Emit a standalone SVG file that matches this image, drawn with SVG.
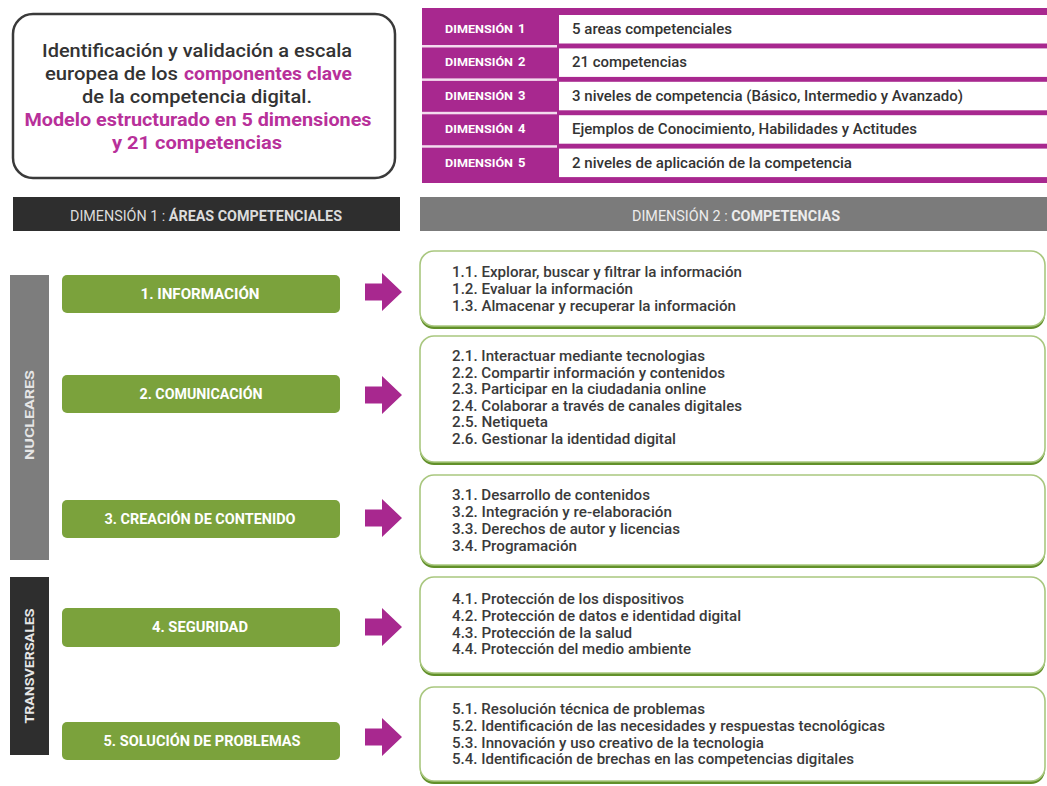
<svg xmlns="http://www.w3.org/2000/svg" width="1047" height="786" viewBox="0 0 1047 786">
<defs>
<style>
.t{font-family:Roboto,"Liberation Sans",sans-serif}
.title{font-size:19px;fill:#333;font-weight:500}
.pk{fill:#b8309a;font-weight:700}
.dl{font-size:10px;font-weight:700;fill:#fff}
.dn{font-size:13px;font-weight:700;fill:#fff}
.dt{font-size:14px;font-weight:500;fill:#333}
.bar{font-size:14px;fill:#dcdcdc}
.gb{fill:#7ba23c}
.gt{font-size:14px;font-weight:700;fill:#fff}
.vt{font-size:13px;font-weight:700;fill:#e6e6e6}
.lst{font-size:15px;font-weight:500;fill:#3a3a3a}
.cb{fill:#fff;stroke:#a9c77f;stroke-width:1.6}
.cs{fill:#62902a}
.arr{fill:#a8288f}
</style>
</defs>
<rect width="1047" height="786" fill="#fff"/>

<g id="title">
<rect x="13" y="14" width="382" height="164" rx="20" fill="#fff" stroke="#3a3a3a" stroke-width="2.5"/>
<text class="t title" x="197" y="57" text-anchor="middle" textLength="310" lengthAdjust="spacingAndGlyphs">Identificación y validación a escala</text>
<text class="t title" x="45" y="80" textLength="133" lengthAdjust="spacingAndGlyphs">europea de los</text>
<text class="t title pk" x="184" y="80" textLength="168" lengthAdjust="spacingAndGlyphs">componentes clave</text>
<text class="t title" x="197" y="103" text-anchor="middle" textLength="230" lengthAdjust="spacingAndGlyphs">de la competencia digital.</text>
<text class="t title pk" x="198" y="126" text-anchor="middle" textLength="347" lengthAdjust="spacingAndGlyphs">Modelo estructurado en 5 dimensiones</text>
<text class="t title pk" x="197" y="149" text-anchor="middle" textLength="170" lengthAdjust="spacingAndGlyphs">y 21 competencias</text>
</g>

<g id="dimensions">
<rect x="422" y="8" width="625" height="175" fill="#a8288f"/>
<rect x="559" y="15" width="488" height="28.5" fill="#fff"/>
<rect x="559" y="48.4" width="488" height="28.5" fill="#fff"/>
<rect x="559" y="81.8" width="488" height="28.5" fill="#fff"/>
<rect x="559" y="115.2" width="488" height="28.5" fill="#fff"/>
<rect x="559" y="148.6" width="488" height="28.5" fill="#fff"/>
<rect x="422" y="45" width="135" height="2.5" fill="#f3dcee"/>
<rect x="422" y="78.4" width="135" height="2.5" fill="#f3dcee"/>
<rect x="422" y="111.8" width="135" height="2.5" fill="#f3dcee"/>
<rect x="422" y="145.2" width="135" height="2.5" fill="#f3dcee"/>
<text class="t dl" x="445" y="33" textLength="68" lengthAdjust="spacingAndGlyphs">DIMENSIÓN</text><text class="t dn" x="518" y="33">1</text>
<text class="t dl" x="445" y="66.4" textLength="68" lengthAdjust="spacingAndGlyphs">DIMENSIÓN</text><text class="t dn" x="518" y="66.4">2</text>
<text class="t dl" x="445" y="99.8" textLength="68" lengthAdjust="spacingAndGlyphs">DIMENSIÓN</text><text class="t dn" x="518" y="99.8">3</text>
<text class="t dl" x="445" y="133.2" textLength="68" lengthAdjust="spacingAndGlyphs">DIMENSIÓN</text><text class="t dn" x="518" y="133.2">4</text>
<text class="t dl" x="445" y="166.6" textLength="68" lengthAdjust="spacingAndGlyphs">DIMENSIÓN</text><text class="t dn" x="518" y="166.6">5</text>
<text class="t dt" x="572" y="34" textLength="160" lengthAdjust="spacingAndGlyphs">5 areas competenciales</text>
<text class="t dt" x="572" y="67.4" textLength="115" lengthAdjust="spacingAndGlyphs">21 competencias</text>
<text class="t dt" x="572" y="100.8" textLength="391" lengthAdjust="spacingAndGlyphs">3 niveles de competencia (Básico, Intermedio y Avanzado)</text>
<text class="t dt" x="572" y="134.2" textLength="345" lengthAdjust="spacingAndGlyphs">Ejemplos de Conocimiento, Habilidades y Actitudes</text>
<text class="t dt" x="572" y="167.6" textLength="280" lengthAdjust="spacingAndGlyphs">2 niveles de aplicación de la competencia</text>
</g>

<g id="header1">
<rect x="13" y="197" width="387" height="34" fill="#2e2e2e"/>
<text class="t bar" x="70" y="221" textLength="272" lengthAdjust="spacingAndGlyphs">DIMENSIÓN 1 : <tspan font-weight="700">ÁREAS COMPETENCIALES</tspan></text>
</g>
<g id="header2">
<rect x="420" y="197" width="627" height="34" fill="#7b7b7b"/>
<text class="t bar" x="632" y="221" textLength="208" lengthAdjust="spacingAndGlyphs" style="fill:#ececec">DIMENSIÓN 2 : <tspan font-weight="700">COMPETENCIAS</tspan></text>
</g>

<g id="nucleares">
<rect x="10" y="275" width="39" height="285" fill="#7d7d7d"/>
<text class="t vt" transform="translate(34,415) rotate(-90)" text-anchor="middle" textLength="90" lengthAdjust="spacingAndGlyphs">NUCLEARES</text>
</g>
<g id="transversales">
<rect x="10" y="577" width="39" height="178" fill="#2e2e2e"/>
<text class="t vt" transform="translate(34,666) rotate(-90)" text-anchor="middle" textLength="115" lengthAdjust="spacingAndGlyphs">TRANSVERSALES</text>
</g>

<g id="area1"><rect class="gb" x="62" y="275" width="278" height="38" rx="5"/><text class="t gt" x="200" y="299" text-anchor="middle" textLength="119" lengthAdjust="spacingAndGlyphs">1. INFORMACIÓN</text></g>
<g id="area2"><rect class="gb" x="62" y="375" width="278" height="38" rx="5"/><text class="t gt" x="201" y="399" text-anchor="middle" textLength="123" lengthAdjust="spacingAndGlyphs">2. COMUNICACIÓN</text></g>
<g id="area3"><rect class="gb" x="62" y="500" width="278" height="38" rx="5"/><text class="t gt" x="200" y="524" text-anchor="middle" textLength="191" lengthAdjust="spacingAndGlyphs">3. CREACIÓN DE CONTENIDO</text></g>
<g id="area4"><rect class="gb" x="62" y="608" width="278" height="39" rx="5"/><text class="t gt" x="200" y="632" text-anchor="middle" textLength="96" lengthAdjust="spacingAndGlyphs">4. SEGURIDAD</text></g>
<g id="area5"><rect class="gb" x="62" y="722" width="278" height="38" rx="5"/><text class="t gt" x="202" y="746" text-anchor="middle" textLength="197" lengthAdjust="spacingAndGlyphs">5. SOLUCIÓN DE PROBLEMAS</text></g>

<g id="connectors">
<path class="arr" d="M365,283.5 H382 V273 L402,292 L382,311 V300.5 H365 Z"/>
<path class="arr" d="M365,386.5 H382 V376 L402,395 L382,414 V403.5 H365 Z"/>
<path class="arr" d="M365,509.5 H382 V499 L402,518 L382,537 V526.5 H365 Z"/>
<path class="arr" d="M365,618.5 H382 V608 L402,627 L382,646 V635.5 H365 Z"/>
<path class="arr" d="M365,728.5 H382 V718 L402,737 L382,756 V745.5 H365 Z"/>
</g>

<g id="comp1">
<rect class="cs" x="420" y="254" width="625" height="75" rx="14"/>
<rect class="cb" x="420" y="251" width="625" height="75" rx="14"/>
<text class="t lst" x="452" y="277" textLength="290" lengthAdjust="spacingAndGlyphs">1.1. Explorar, buscar y filtrar la información</text>
<text class="t lst" x="452" y="294" textLength="181" lengthAdjust="spacingAndGlyphs">1.2. Evaluar la información</text>
<text class="t lst" x="452" y="311" textLength="284" lengthAdjust="spacingAndGlyphs">1.3. Almacenar y recuperar la información</text>
</g>
<g id="comp2">
<rect class="cs" x="420" y="339" width="625" height="126" rx="14"/>
<rect class="cb" x="420" y="336" width="625" height="126" rx="14"/>
<text class="t lst" x="452" y="361" textLength="253" lengthAdjust="spacingAndGlyphs">2.1. Interactuar mediante tecnologias</text>
<text class="t lst" x="452" y="377.5" textLength="273" lengthAdjust="spacingAndGlyphs">2.2. Compartir información y contenidos</text>
<text class="t lst" x="452" y="394" textLength="254" lengthAdjust="spacingAndGlyphs">2.3. Participar en la ciudadania online</text>
<text class="t lst" x="452" y="410.5" textLength="290" lengthAdjust="spacingAndGlyphs">2.4. Colaborar a través de canales digitales</text>
<text class="t lst" x="452" y="427" textLength="96" lengthAdjust="spacingAndGlyphs">2.5. Netiqueta</text>
<text class="t lst" x="452" y="443.5" textLength="224" lengthAdjust="spacingAndGlyphs">2.6. Gestionar la identidad digital</text>
</g>
<g id="comp3">
<rect class="cs" x="420" y="478" width="625" height="90" rx="14"/>
<rect class="cb" x="420" y="475" width="625" height="90" rx="14"/>
<text class="t lst" x="452" y="500" textLength="198" lengthAdjust="spacingAndGlyphs">3.1. Desarrollo de contenidos</text>
<text class="t lst" x="452" y="517" textLength="220" lengthAdjust="spacingAndGlyphs">3.2. Integración y re-elaboración</text>
<text class="t lst" x="452" y="534" textLength="228" lengthAdjust="spacingAndGlyphs">3.3. Derechos de autor y licencias</text>
<text class="t lst" x="452" y="551" textLength="125" lengthAdjust="spacingAndGlyphs">3.4. Programación</text>
</g>
<g id="comp4">
<rect class="cs" x="420" y="580" width="625" height="96" rx="14"/>
<rect class="cb" x="420" y="577" width="625" height="96" rx="14"/>
<text class="t lst" x="452" y="604" textLength="232" lengthAdjust="spacingAndGlyphs">4.1. Protección de los dispositivos</text>
<text class="t lst" x="452" y="621" textLength="289" lengthAdjust="spacingAndGlyphs">4.2. Protección de datos e identidad digital</text>
<text class="t lst" x="452" y="637.5" textLength="180" lengthAdjust="spacingAndGlyphs">4.3. Protección de la salud</text>
<text class="t lst" x="452" y="654" textLength="239" lengthAdjust="spacingAndGlyphs">4.4. Protección del medio ambiente</text>
</g>
<g id="comp5">
<rect class="cs" x="420" y="690" width="625" height="94" rx="14"/>
<rect class="cb" x="420" y="687" width="625" height="94" rx="14"/>
<text class="t lst" x="452" y="714" textLength="253" lengthAdjust="spacingAndGlyphs">5.1. Resolución técnica de problemas</text>
<text class="t lst" x="452" y="731" textLength="433" lengthAdjust="spacingAndGlyphs">5.2. Identificación de las necesidades y respuestas tecnológicas</text>
<text class="t lst" x="452" y="748" textLength="312" lengthAdjust="spacingAndGlyphs">5.3. Innovación y uso creativo de la tecnologia</text>
<text class="t lst" x="452" y="764" textLength="402" lengthAdjust="spacingAndGlyphs">5.4. Identificación de brechas en las competencias digitales</text>
</g>
</svg>
